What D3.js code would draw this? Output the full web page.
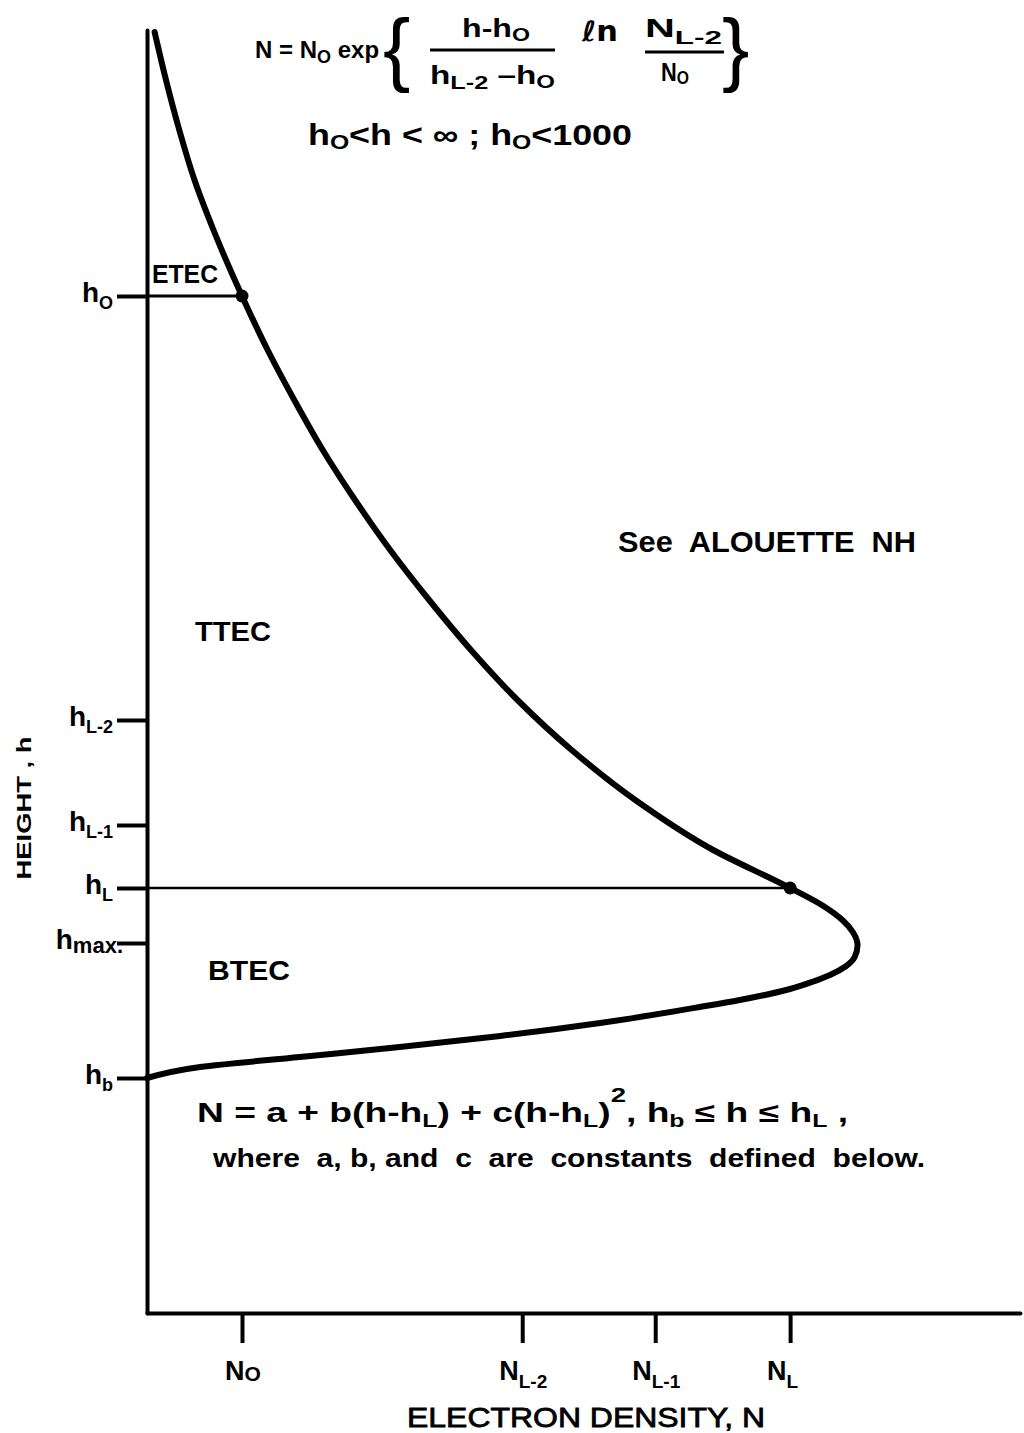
<!DOCTYPE html>
<html>
<head>
<meta charset="utf-8">
<script src="https://cdn.jsdelivr.net/npm/d3@7"></script>
<style>
  html, body { margin: 0; padding: 0; background: #fff; }
  svg text { font-family: "Liberation Sans", Arial, sans-serif; font-weight: bold; fill: #000; white-space: pre; }
</style>
</head>
<body>
<svg id="chart" width="1024" height="1433"></svg>
<script>
// Electron density profile (topside + bottomside), heights and densities in arbitrary units
const densityValues = [
  0.08, 0.20, 0.34, 0.50, 0.70, 1.00, 1.27, 1.55, 1.85, 2.19, 2.56, 2.97, 3.41, 3.90,
  4.47, 5.14, 5.96, 6.77, 7.12, 7.32, 7.43, 7.48, 7.45, 7.36, 7.19, 7.00, 6.77, 6.24,
  5.82, 4.77, 3.72, 2.66, 1.61, 0.56, 0.00
];
const heightValues = [
  12.81, 12.33, 11.83, 11.33, 10.83, 10.17, 9.63, 9.13, 8.63, 8.13, 7.63, 7.13, 6.63, 6.13,
  5.63, 5.13, 4.63, 4.25, 4.07, 3.93, 3.81, 3.68, 3.56, 3.47, 3.38, 3.31, 3.24, 3.13,
  3.06, 2.90, 2.77, 2.66, 2.56, 2.46, 2.35
];

// Reference levels on each axis
const densityTicks = [1.00, 3.95, 5.35, 6.77];
const densityTickLabels = [["N", "O"], ["N", "L-2"], ["N", "L-1"], ["N", "L"]];
const heightTicks = [10.17, 5.93, 4.88, 4.25, 3.70, 2.35];
const heightTickLabels = [["h", "O"], ["h", "L-2"], ["h", "L-1"], ["h", "L"], ["h", "max."], ["h", "b"]];

// Marked points: (N0, h0) and (NL, hL)
const markedDensity = [1.00, 6.77];
const markedHeight = [10.17, 4.25];

const svg = d3.select("#chart");
const x = d3.scaleLinear().domain([0, 9.19]).range([147, 1020]);
const y = d3.scaleLinear().domain([0, 12.83]).range([1313, 30]);

// helper: text with sub/superscript runs
function rich(parent, px, py, segs, opt) {
  const t = parent.append("text").attr("x", px).attr("y", py)
    .attr("font-size", opt.size).attr("text-anchor", opt.anchor || "start");
  if (opt.weight) t.style("font-weight", opt.weight);
  if (opt.family) t.style("font-family", opt.family);
  let cur = 0;
  segs.forEach(s => {
    const sh = s.shift || 0;
    const ts = t.append("tspan").attr("dy", sh - cur).text(s.t);
    if (s.size) ts.attr("font-size", s.size);
    cur = sh;
  });
  if (opt.len) t.attr("textLength", opt.len).attr("lengthAdjust", "spacingAndGlyphs");
  return t;
}
const T = s => ({ t: s });
const sub = (s, sz, sh) => ({ t: s, size: sz, shift: sh });

// Axes
const yAxis = d3.axisLeft(y).tickValues(heightTicks).tickSize(30).tickSizeOuter(0).tickFormat("");
const xAxis = d3.axisBottom(x).tickValues(densityTicks).tickSize(30).tickSizeOuter(0).tickFormat("");

const gy = svg.append("g").attr("transform", `translate(${x(0)},0)`).call(yAxis);
const gx = svg.append("g").attr("transform", `translate(0,${y(0)})`).call(xAxis);
[gy, gx].forEach(g => {
  g.select(".domain").attr("stroke", "#000").attr("stroke-width", 4).attr("stroke-linecap", "round");
  g.selectAll(".tick line").attr("stroke", "#000").attr("stroke-width", 4);
});

// Height tick labels
heightTicks.forEach((v, i) => {
  const [base, s] = heightTickLabels[i];
  const isMax = s === "max.";
  rich(svg, isMax ? 123 : 113, y(v) + 6, [T(base), sub(s, isMax ? 22 : 18, isMax ? 4 : 7)], { size: 28, anchor: "end" });
});

// Density tick labels
densityTicks.forEach((v, i) => {
  const [base, s] = densityTickLabels[i];
  const isO = s === "O";
  rich(svg, x(v) - (isO ? 17 : 23), 1380, [T(base), sub(s, isO ? 21 : 19, isO ? 1 : 8)], { size: 27 });
});

// Axis titles
svg.append("text").attr("transform", "translate(31,808) rotate(-90)")
  .attr("text-anchor", "middle").attr("font-size", 21)
  .attr("textLength", 143).attr("lengthAdjust", "spacingAndGlyphs")
  .text("HEIGHT , h");
svg.append("text").attr("x", 586).attr("y", 1427).attr("text-anchor", "middle")
  .attr("font-size", 28).attr("textLength", 358).attr("lengthAdjust", "spacingAndGlyphs")
  .style("font-weight", "normal").attr("stroke", "#000").attr("stroke-width", 0.8)
  .text("ELECTRON DENSITY, N");

// Level lines from the height axis to the marked points
svg.append("line").attr("x1", x(0)).attr("x2", x(markedDensity[0]))
  .attr("y1", y(markedHeight[0])).attr("y2", y(markedHeight[0]))
  .attr("stroke", "#000").attr("stroke-width", 3);
svg.append("line").attr("x1", x(0)).attr("x2", x(markedDensity[1]))
  .attr("y1", y(markedHeight[1])).attr("y2", y(markedHeight[1]))
  .attr("stroke", "#000").attr("stroke-width", 2.5);

// Profile curve (height decreases monotonically along the samples)
const profile = densityValues.map((d, i) => [d, heightValues[i]]);
const line = d3.line().x(d => x(d[0])).y(d => y(d[1])).curve(d3.curveMonotoneY);
svg.append("path").datum(profile).attr("d", line)
  .attr("fill", "none").attr("stroke", "#000").attr("stroke-width", 6)
  .attr("stroke-linecap", "round").attr("stroke-linejoin", "round");

svg.selectAll("circle.mark").data(markedDensity).join("circle")
  .attr("class", "mark").attr("cx", d => x(d)).attr("cy", (d, i) => y(markedHeight[i]))
  .attr("r", 6.5).attr("fill", "#000");

// Region labels
svg.append("text").attr("x", 152).attr("y", 283).attr("font-size", 26)
  .attr("textLength", 66).attr("lengthAdjust", "spacingAndGlyphs").text("ETEC");
svg.append("text").attr("x", 195).attr("y", 641).attr("font-size", 28)
  .attr("textLength", 76).attr("lengthAdjust", "spacingAndGlyphs").text("TTEC");
svg.append("text").attr("x", 208).attr("y", 980).attr("font-size", 28)
  .attr("textLength", 82).attr("lengthAdjust", "spacingAndGlyphs").text("BTEC");
svg.append("text").attr("x", 618).attr("y", 552).attr("font-size", 30)
  .attr("textLength", 298).attr("lengthAdjust", "spacingAndGlyphs").text("See  ALOUETTE  NH");

// Topside formula
const F = svg.append("g");
rich(F, 255, 58, [T("N = N"), sub("O", 18, 5), T(" exp")], { size: 24 });
F.append("text").attr("x", 383).attr("y", 76).attr("font-size", 82).style("font-weight", "normal").text("{");
rich(F, 462, 37, [T("h-h"), sub("O", 18, 4)], { size: 25, len: 68 });
F.append("line").attr("x1", 430).attr("x2", 555).attr("y1", 50).attr("y2", 50).attr("stroke", "#000").attr("stroke-width", 3);
rich(F, 430, 84, [T("h"), sub("L-2", 19, 5), T(" –h"), sub("O", 18, 4)], { size: 25, len: 125 });
rich(F, 582, 41, [T("ℓn")], { size: 28, len: 36, family: "DejaVu Sans" });
rich(F, 645, 37, [T("N"), sub("L-2", 19, 7)], { size: 25, len: 77 });
F.append("line").attr("x1", 645).attr("x2", 724).attr("y1", 52).attr("y2", 52).attr("stroke", "#000").attr("stroke-width", 3);
rich(F, 661, 81, [T("N"), sub("O", 18, 3)], { size: 25, len: 28 });
F.append("text").attr("x", 722).attr("y", 76).attr("font-size", 82).style("font-weight", "normal").text("}");
rich(F, 308, 145, [T("h"), sub("O", 20, 4), T("<h < ∞ ; h"), sub("O", 20, 4), T("<1000")], { size: 29, len: 324 });

// Bottomside formula
const B = svg.append("g");
rich(B, 197, 1122, [
  T("N = a + b(h-h"), sub("L", 18, 5), T(") + c(h-h"), sub("L", 18, 5), T(")"), sub("2", 20, -20),
  T(", h"), sub("b", 18, 5), T(" ≤ h ≤ h"), sub("L", 18, 5), T(" ,")
], { size: 27, len: 651 });
rich(B, 213, 1167, [T("where  a, b, and  c  are  constants  defined  below.")], { size: 26, len: 712 });
</script>
</body>
</html>
